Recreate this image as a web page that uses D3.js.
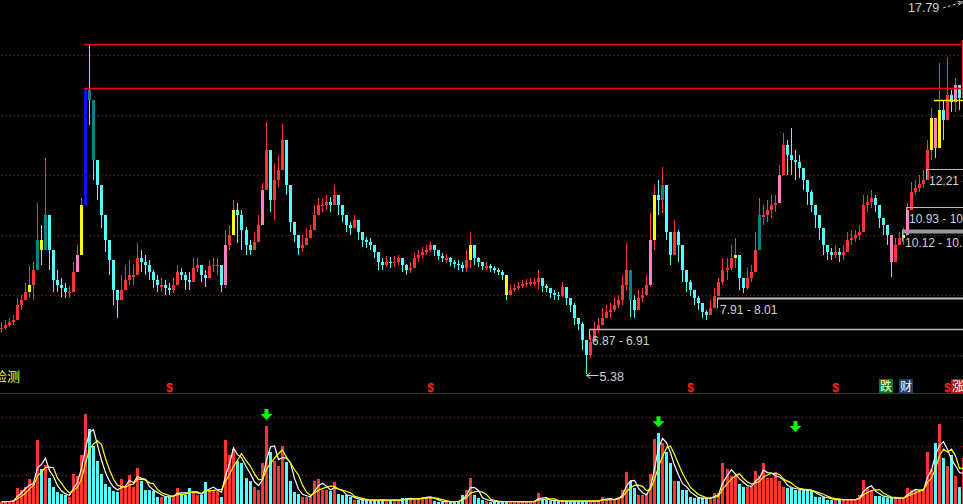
<!DOCTYPE html>
<html><head><meta charset="utf-8">
<script src="https://cdn.jsdelivr.net/npm/d3@7"></script>
<style>html,body{margin:0;padding:0;background:#000;overflow:hidden}svg{display:block}</style>
</head><body>
<svg id="c" width="963" height="504"></svg>
<script>
// ---- data (prices) ----
const closes = [
6.90,7.00,7.10,7.16,7.66,7.83,8.10,8.33,8.83,9.83,
9.50,10.66,9.50,8.50,8.33,8.23,8.10,8.10,8.76,9.33,
11.00,14.83,14.50,12.50,11.66,10.66,9.83,9.16,8.16,7.83,
8.16,8.50,8.66,8.66,9.23,9.10,9.00,8.76,8.50,8.33,
8.33,8.23,8.16,8.33,8.76,8.66,8.50,8.43,8.90,9.00,
8.66,8.56,8.96,9.00,9.00,8.33,9.66,10.00,10.83,10.66,
10.16,9.66,9.50,9.76,10.33,11.50,12.83,11.16,11.83,12.16,
13.16,11.66,10.43,10.00,9.56,9.66,9.90,10.16,10.66,11.00,
11.00,11.10,11.00,11.33,11.00,10.66,10.33,10.23,10.50,10.10,
9.83,9.76,9.66,9.43,9.10,9.00,9.10,9.06,9.10,9.23,
9.00,8.83,8.90,9.23,9.33,9.43,9.50,9.66,9.50,9.30,
9.23,9.23,9.10,9.03,9.00,8.90,9.16,9.66,9.23,9.10,
8.96,8.96,8.90,8.83,8.76,8.66,8.00,8.16,8.23,8.30,
8.36,8.40,8.43,8.43,8.56,8.30,8.23,8.06,8.00,7.96,
8.26,7.90,7.66,7.23,7.03,6.50,6.00,6.43,6.83,7.00,
7.23,7.43,7.50,7.66,7.83,8.33,8.83,7.83,7.50,7.90,
8.00,8.33,9.83,11.33,11.16,11.66,10.10,9.33,10.10,9.66,
8.83,8.43,8.16,7.90,7.73,7.43,7.33,7.56,7.96,8.43,
8.83,8.90,9.23,9.33,8.56,8.23,8.56,8.76,9.50,10.66,
10.66,10.83,11.00,11.06,12.00,13.00,12.66,12.50,12.43,12.23,
11.83,11.43,11.00,10.66,10.23,9.66,9.43,9.33,9.43,9.33,
9.43,9.83,9.90,10.00,10.10,11.00,11.10,11.23,11.00,10.56,
10.33,10.00,9.10,9.66,9.90,10.00,10.83,11.43,11.56,11.70,
11.83,12.83,13.90,12.90,14.16,13.83,14.66,14.43,15.00,14.56,
16.50];
const highs = [
7.10,7.16,7.23,7.33,7.90,8.00,8.40,8.96,9.10,11.06,
10.33,12.56,10.33,9.00,8.83,8.56,8.40,8.30,9.10,9.66,
11.23,14.90,16.36,13.50,12.33,11.33,10.33,9.83,9.10,8.16,
8.66,9.00,9.16,9.00,9.73,9.50,9.33,9.16,8.83,8.66,
8.56,8.50,8.40,8.56,9.00,8.90,8.76,8.76,9.23,9.23,
9.00,8.83,9.16,9.23,9.23,8.83,10.16,10.33,11.16,11.06,
10.83,10.26,9.83,10.10,10.66,11.73,13.76,11.73,12.40,12.66,
13.70,12.16,11.00,10.33,9.90,10.00,10.23,10.33,11.00,11.23,
11.23,11.33,11.26,11.66,11.33,10.90,10.56,10.43,10.66,10.33,
10.10,9.93,9.90,9.66,9.33,9.23,9.30,9.26,9.30,9.33,
9.23,9.03,9.10,9.40,9.50,9.60,9.66,9.76,9.63,9.50,
9.40,9.36,9.26,9.16,9.16,9.10,9.50,10.10,9.50,9.26,
9.10,9.10,9.03,8.96,8.90,8.83,8.33,8.33,8.36,8.43,
8.50,8.53,8.56,8.56,8.83,8.50,8.36,8.23,8.16,8.10,
8.43,8.10,7.90,7.73,7.23,7.10,6.33,6.66,7.10,7.23,
7.56,7.66,7.73,7.93,8.00,8.66,9.73,8.16,8.00,8.16,
8.23,8.66,10.73,11.66,11.83,12.26,10.83,9.90,10.50,10.16,
9.23,8.66,8.50,8.16,7.96,7.66,7.50,7.83,8.23,8.56,
9.23,9.23,9.66,9.90,9.10,8.56,8.90,9.00,10.10,11.23,
11.00,11.16,11.33,11.33,12.33,13.40,13.16,13.56,12.83,12.66,
12.23,11.73,11.50,11.00,10.66,10.23,9.66,9.56,9.66,9.56,
9.66,10.10,10.16,10.16,10.33,11.33,11.33,11.50,11.33,10.83,
10.56,10.33,9.83,9.90,10.10,10.23,11.06,11.76,11.83,12.00,
12.16,13.16,14.23,13.33,15.73,14.50,15.93,14.83,15.23,14.90,
17.79];
const lows = [
6.73,6.83,6.93,7.00,7.43,7.50,7.83,7.90,7.83,9.33,
9.00,10.00,8.83,8.10,8.10,7.93,7.90,7.90,8.33,8.76,
9.33,12.00,13.66,11.83,11.16,10.23,9.43,8.66,7.66,7.23,
7.83,8.16,8.33,8.33,8.66,8.76,8.66,8.50,8.23,8.10,
8.10,8.00,8.00,8.06,8.43,8.50,8.16,8.16,8.66,8.76,
8.43,8.26,8.66,8.76,8.66,8.10,8.23,9.50,10.33,9.73,
9.50,9.33,9.33,9.56,9.83,10.50,11.66,10.76,10.50,11.60,
12.16,11.33,10.10,9.76,9.33,9.43,9.66,9.90,10.33,10.66,
10.76,10.83,10.76,11.00,10.66,10.43,10.10,10.00,10.33,9.83,
9.60,9.56,9.50,9.23,8.83,8.83,8.93,8.90,8.93,9.00,
8.76,8.66,8.73,9.00,9.10,9.23,9.33,9.43,9.30,9.16,
9.10,9.06,8.96,8.90,8.83,8.76,8.76,8.90,9.00,8.93,
8.83,8.83,8.76,8.73,8.66,8.50,7.83,8.00,8.10,8.16,
8.23,8.26,8.30,8.30,8.16,8.10,8.10,7.90,7.83,7.83,
7.93,7.66,7.43,7.00,6.83,6.16,5.38,5.90,6.50,6.73,
7.00,7.23,7.23,7.43,7.56,7.66,8.16,7.26,7.23,7.66,
7.76,8.00,8.26,9.50,10.66,10.73,9.83,9.00,9.50,9.10,
8.43,8.10,7.96,7.66,7.50,7.23,7.16,7.33,7.76,8.00,
8.33,8.50,8.83,8.90,8.16,8.06,8.16,8.43,9.10,9.83,
10.33,10.43,10.56,10.76,11.50,12.33,12.00,12.00,11.83,11.90,
11.50,11.00,10.76,10.23,9.83,9.33,9.16,9.16,9.23,9.10,
9.16,9.50,9.66,9.76,9.83,10.66,10.76,10.90,10.76,10.23,
10.00,9.66,8.60,9.43,9.66,9.66,10.33,11.16,11.33,11.43,
11.56,12.16,12.50,12.56,13.33,13.16,14.10,14.10,14.10,14.16,
14.66];
const firstOpen = 6.85;
const volumes = [
.08,.08,.1,.14,.54,.48,.6,.85,.7,2.2,
1.2,1.35,.9,.6,.4,.35,.3,.25,1.05,.95,
1.7,3.1,2.6,2.0,1.5,1.05,.7,.6,.45,.4,
.85,.6,1.0,.6,1.25,.8,.5,.5,.45,.25,
.25,.25,.25,.3,.55,.3,.3,.55,.4,.3,
.3,.75,.5,.5,.45,.25,2.2,1.7,1.9,1.5,
1.4,.9,.8,.6,.5,1.4,2.7,1.8,1.5,1.3,
2.0,1.45,.8,.4,.35,.25,.25,.25,.8,.85,
.5,.5,.45,.75,.35,.3,.3,.25,.14,.14,
.14,.14,.12,.14,.14,.14,.12,.14,.14,.12,
.2,.2,.18,.14,.2,.25,.25,.25,.1,.08,
.08,.08,.08,.1,.08,.3,.5,.9,.3,.2,
.14,.12,.08,.08,.08,.08,.1,.08,.08,.08,
.08,.08,.08,.1,.37,.14,.14,.12,.1,.1,
.1,.1,.1,.1,.1,.1,.1,.1,.1,.1,
.25,.15,.15,.15,.25,.5,1.1,.8,.55,.3,
.3,.35,1.05,2.25,2.45,2.1,1.8,1.4,.8,.8,
.5,.5,.25,.2,.2,.2,.2,.2,.37,.37,
1.4,1.2,.95,.95,.7,.6,.6,.6,1.15,.95,
1.4,.9,.9,1.1,.8,.6,.55,.55,.5,.48,
.48,.48,.45,.25,.25,.25,.15,.15,.15,.15,
.15,.15,.15,.15,.3,.83,.55,.5,.28,.28,
.25,.2,.2,.2,.2,.2,.55,.48,.48,.48,
.48,1.8,1.2,2.1,2.75,1.6,1.3,1.7,.95,.6,
1.6];
const blueBars = [21];
const tealBars = [9, 11, 22, 23, 157, 165, 189];
const yellowBars = [7, 10, 20, 58, 117, 126, 163, 183, 225, 232, 234];
const pinkBars = [19, 56, 65, 162, 194, 222, 226, 233, 238];
const priceGrid = [6, 8, 10, 12, 14, 16];
const volGrid = [1, 2, 3];
const resistLevels = [16.36, 14.90];
const resistStart = 21;
const costLevel = 14.50, costStart = 233;
const levelLows = [12.21, 10.93, 10.12, 7.91, 6.87];
const levelHighs = [12.40, 10.99, 10.20, 8.01, 6.91];
const levelStart = [231, 226, 225, 179, 147];
const levelWidth = [1, 1, 4, 2, 1.5];
const dollarIdx = [42, 107, 172, 208, 236];
const tagText = ["跌", "财", "涨"];
const tagIdx = [219, 224, 237];
const tagFill = ["#0b7a12", "#1c3f6e", "#b3141a"];
const arrowIdx = [66, 164, 198];
const arrowLevel = [2.9, 2.65, 2.48];
const panelTitle = "检测";

// ---- drawing ----
const W = 963, H = 504, N = closes.length;
const opens = closes.map((c, i) => i === 0 ? firstOpen : closes[i - 1]);
const hi = highs.map((h, i) => Math.max(h, opens[i], closes[i]));
const lo = lows.map((l, i) => Math.min(l, opens[i], closes[i]));
const svg = d3.select("#c");
svg.append("rect").attr("width", W).attr("height", H).attr("fill", "#000");

const x = d3.scaleBand().domain(d3.range(N)).range([0, 965]).paddingInner(0.25);
const y = d3.scaleLinear().domain([4.83, 17.83]).range([390, 0]);
const yv = d3.scaleLinear().domain([0, 3.8]).range([504, 393.8]);
const px = i => Math.round(x(i));
const cx = i => px(i) + 1.5;

const RED = "#ff3434", CYAN = "#54fcfc";
const kind = i => blueBars.includes(i) ? "#1010ff" : tealBars.includes(i) ? "#008484" :
  yellowBars.includes(i) ? "#ffff00" : pinkBars.includes(i) ? "#ff80c0" : null;

const defs = svg.append("defs");
defs.append("clipPath").attr("id", "mainClip").append("rect").attr("x", 0).attr("y", 0).attr("width", W).attr("height", 392);
defs.append("clipPath").attr("id", "volClip").append("rect").attr("x", 0).attr("y", 394).attr("width", W).attr("height", 110);

// grid lines
const grid = svg.append("g").attr("stroke", "#8a2020").attr("stroke-dasharray", "1,3").attr("shape-rendering", "crispEdges");
grid.selectAll("line.p").data(priceGrid).join("line").attr("class", "p")
  .attr("x1", 2).attr("x2", W).attr("y1", d => Math.round(y(d)) + 0.5).attr("y2", d => Math.round(y(d)) + 0.5);
grid.selectAll("line.v").data(volGrid).join("line").attr("class", "v")
  .attr("x1", 2).attr("x2", W).attr("y1", d => Math.round(yv(d)) + 0.5).attr("y2", d => Math.round(yv(d)) + 0.5);

// separator
svg.append("line").attr("x1", 0).attr("x2", W).attr("y1", 393.5).attr("y2", 393.5)
  .attr("stroke", "#b00000").attr("stroke-width", 1);

// candles
const main = svg.append("g").attr("clip-path", "url(#mainClip)").attr("shape-rendering", "crispEdges");
const idx = d3.range(N);
main.selectAll("line.wick").data(idx).join("line").attr("class", "wick")
  .attr("x1", cx).attr("x2", cx)
  .attr("y1", i => y(hi[i])).attr("y2", i => y(lo[i]))
  .attr("stroke", i => closes[i] >= opens[i] ? RED : CYAN).attr("stroke-width", 1);
main.selectAll("rect.body").data(idx).join("rect").attr("class", "body")
  .each(function (i) {
    const up = closes[i] >= opens[i];
    const top = y(Math.max(opens[i], closes[i])), bot = y(Math.min(opens[i], closes[i]));
    const h = Math.max(1, bot - top);
    const k = kind(i);
    const s = d3.select(this);
    if (k) {
      s.attr("x", px(i)).attr("y", top).attr("width", 3).attr("height", h).attr("fill", k);
    } else if (up) {
      s.attr("x", px(i) + 0.5).attr("y", top + 0.5).attr("width", 2).attr("height", Math.max(0.5, h - 1))
        .attr("fill", "none").attr("stroke", RED).attr("stroke-width", 1);
    } else {
      s.attr("x", px(i)).attr("y", top).attr("width", 3).attr("height", h).attr("fill", CYAN);
    }
  });

// resistance lines
resistLevels.forEach(l => {
  const yy = Math.round(y(l)) + 0.5;
  svg.append("line").attr("x1", px(resistStart)).attr("x2", W).attr("y1", yy).attr("y2", yy)
    .attr("stroke", "#ff0000").attr("stroke-width", 1.6);
});
svg.append("line").attr("x1", px(costStart)).attr("x2", W).attr("y1", Math.round(y(costLevel)) + 0.5).attr("y2", Math.round(y(costLevel)) + 0.5)
  .attr("stroke", "#ffff00").attr("stroke-width", 1.5);

// support level boxes
const txtFont = "'Liberation Sans', Arial, sans-serif";
levelLows.forEach((l, k) => {
  const yy = Math.round(y(l)) + 0.5;
  const x0 = px(levelStart[k]);
  svg.append("line").attr("x1", x0).attr("x2", W).attr("y1", yy).attr("y2", yy)
    .attr("stroke", k === 2 ? "#9a9a9a" : "#bdbdbd").attr("stroke-width", levelWidth[k]);
  svg.append("line").attr("x1", x0 + 0.5).attr("x2", x0 + 0.5).attr("y1", yy).attr("y2", yy + 10)
    .attr("stroke", "#bdbdbd").attr("stroke-width", 1);
  svg.append("text").attr("x", x0 + 3).attr("y", yy + 15.5)
    .attr("fill", "#d0d0d0").attr("font-family", txtFont).attr("font-size", 12)
    .text(`${l.toFixed(2)} - ${levelHighs[k].toFixed(2)}`);
});

// max / min labels
const maxI = d3.maxIndex(hi), minI = d3.minIndex(lo);
svg.append("text").attr("x", 908).attr("y", 12).attr("fill", "#d0d0d0")
  .attr("font-family", txtFont).attr("font-size", 12.5).text(hi[maxI].toFixed(2));
svg.append("path").attr("d", `M943,8 L${cx(maxI) - 1},${y(hi[maxI]) + 1}`)
  .attr("stroke", "#d0d0d0").attr("stroke-dasharray", "3,2").attr("fill", "none");
svg.append("path").attr("d", `M${cx(maxI) - 1},${y(hi[maxI]) + 1} l-5,-1 M${cx(maxI) - 1},${y(hi[maxI]) + 1} l-4,3`)
  .attr("stroke", "#d0d0d0").attr("fill", "none");
const my = Math.round(y(lo[minI])) + 1.5;
svg.append("path").attr("d", `M${cx(minI)},${my} L${cx(minI) + 12},${my} M${cx(minI)},${my} l4,-3 M${cx(minI)},${my} l4,3`)
  .attr("stroke", "#d0d0d0").attr("fill", "none");
svg.append("text").attr("x", cx(minI) + 13).attr("y", my + 5).attr("fill", "#d0d0d0")
  .attr("font-family", txtFont).attr("font-size", 12.5).text(lo[minI].toFixed(2));

// title
svg.append("text").attr("x", -6).attr("y", 381).attr("fill", "#ffff00")
  .attr("font-family", "'Noto Sans CJK SC'").attr("font-size", 13).text(panelTitle);

// dollar markers
svg.selectAll("text.dol").data(dollarIdx).join("text").attr("class", "dol")
  .attr("x", i => cx(i)).attr("y", 392).attr("text-anchor", "middle")
  .attr("fill", "#ff2020").attr("font-family", txtFont).attr("font-weight", "bold").attr("font-size", 12).text("$");

// tags
tagIdx.forEach((i, k) => {
  const x0 = px(i) + 1;
  svg.append("rect").attr("x", x0).attr("y", 379).attr("width", 14).attr("height", 14).attr("fill", tagFill[k]);
  svg.append("text").attr("x", x0 + 7).attr("y", 391).attr("text-anchor", "middle").attr("fill", "#ffffff")
    .attr("font-family", "'Noto Sans CJK SC'").attr("font-size", 12).text(tagText[k]);
});

// volume
const vol = svg.append("g").attr("clip-path", "url(#volClip)").attr("shape-rendering", "crispEdges");
vol.selectAll("rect").data(idx).join("rect")
  .attr("x", px).attr("width", 3)
  .attr("y", i => yv(volumes[i])).attr("height", i => 504 - yv(volumes[i]))
  .attr("fill", i => closes[i] >= opens[i] ? RED : CYAN);
const ma = n => volumes.map((v, i) => d3.mean(volumes.slice(Math.max(0, i - n + 1), i + 1)));
const ma1 = ma(3), ma2 = ma(5);
const vline = arr => d3.line().x((d, i) => cx(i)).y(d => yv(d))(arr);
svg.append("path").attr("d", vline(ma1)).attr("fill", "none").attr("stroke", "#ffffff").attr("stroke-width", 1.2).attr("clip-path", "url(#volClip)");
svg.append("path").attr("d", vline(ma2)).attr("fill", "none").attr("stroke", "#ffff00").attr("stroke-width", 1.2).attr("clip-path", "url(#volClip)");

// green arrows
arrowIdx.forEach((i, k) => {
  const bx = cx(i), by = yv(arrowLevel[k]);
  svg.append("path").attr("d", `M${bx - 2},${by - 11} h4 v5 h4 l-6,6 l-6,-6 h4 z`).attr("fill", "#00ff00");
});
</script>
</body></html>
